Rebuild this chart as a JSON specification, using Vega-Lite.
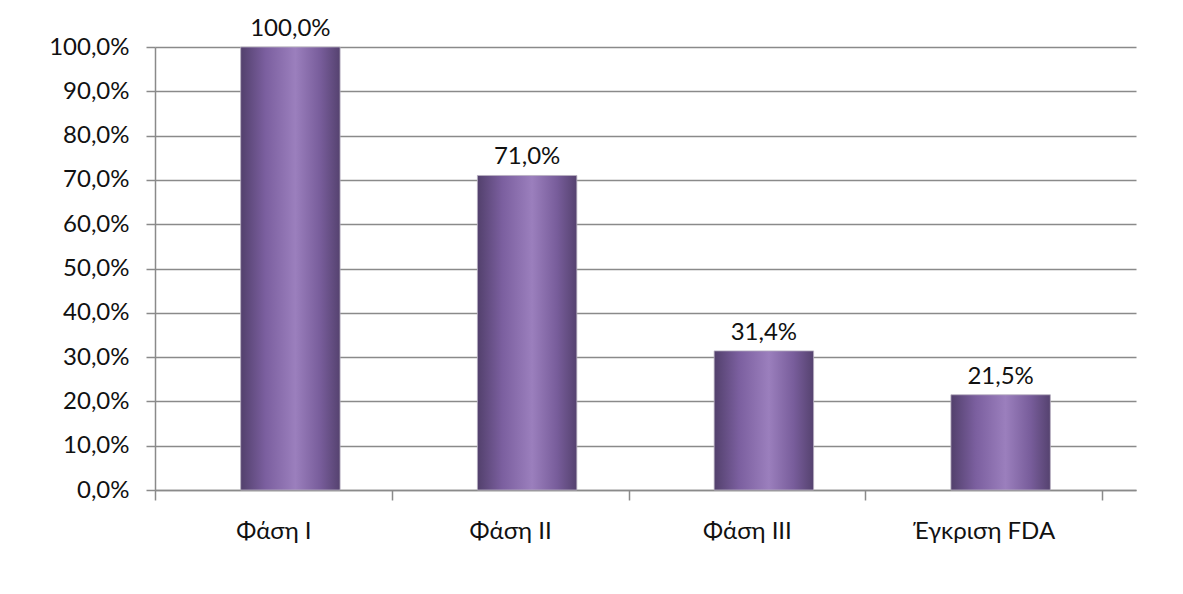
{
  "$schema": "https://vega.github.io/schema/vega-lite/v6.json",
  "autosize": {"type": "none"},
  "padding": {"left": 155, "top": 47, "right": 47, "bottom": 104},
  "width": 981,
  "height": 443,
  "background": "#ffffff",
  "config": {
    "locale": {"number": {"decimal": ",", "thousands": ".", "grouping": [3], "currency": ["", " €"]}},
    "view": {"stroke": null},
    "font": "Lato",
    "axis": {"labelFont": "Lato", "labelFontSize": 24, "labelColor": "#111111", "titleFont": "Lato"}
  },
  "data": {
    "values": [
      {"phase": "Φάση I", "rate": 1.0},
      {"phase": "Φάση II", "rate": 0.71},
      {"phase": "Φάση III", "rate": 0.314},
      {"phase": "Έγκριση FDA", "rate": 0.215}
    ]
  },
  "encoding": {
    "x": {
      "field": "phase",
      "type": "nominal",
      "sort": null,
      "scale": {"paddingInner": 0, "paddingOuter": 0.0718, "align": 0},
      "axis": {
        "title": null,
        "labelAngle": 0,
        "tickBand": "extent",
        "tickSize": 10,
        "tickColor": "#8a8a8a",
        "tickWidth": 1.5,
        "domainColor": "#8a8a8a",
        "domainWidth": 1.5,
        "labelPadding": 19,
        "grid": false
      }
    },
    "y": {
      "field": "rate",
      "type": "quantitative",
      "scale": {"domain": [0, 1], "nice": false},
      "axis": {
        "title": null,
        "format": ".1%",
        "values": [0, 0.1, 0.2, 0.3, 0.4, 0.5, 0.6, 0.7, 0.8, 0.9, 1.0],
        "tickSize": 9,
        "tickColor": "#8a8a8a",
        "tickWidth": 1.5,
        "domainColor": "#8a8a8a",
        "domainWidth": 1.5,
        "labelPadding": 17,
        "grid": true,
        "gridColor": "#8a8a8a",
        "gridWidth": 1.5
      }
    }
  },
  "layer": [
    {
      "mark": {
        "type": "bar",
        "width": {"band": 0.42},
        "xOffset": 17,
        "stroke": "#b8b0c0",
        "strokeWidth": 0.8,
        "color": {
          "gradient": "linear",
          "x1": 0, "x2": 1, "y1": 0, "y2": 0,
          "stops": [
            {"offset": 0, "color": "#52406c"},
            {"offset": 0.25, "color": "#7b5f9f"},
            {"offset": 0.55, "color": "#9b7fbd"},
            {"offset": 0.8, "color": "#785d9b"},
            {"offset": 1, "color": "#55426f"}
          ]
        }
      }
    },
    {
      "mark": {
        "type": "text",
        "xOffset": 17,
        "dy": -11,
        "baseline": "alphabetic",
        "font": "Lato",
        "fontSize": 24,
        "color": "#111111"
      },
      "encoding": {
        "text": {"field": "rate", "type": "quantitative", "format": ".1%"}
      }
    }
  ]
}
